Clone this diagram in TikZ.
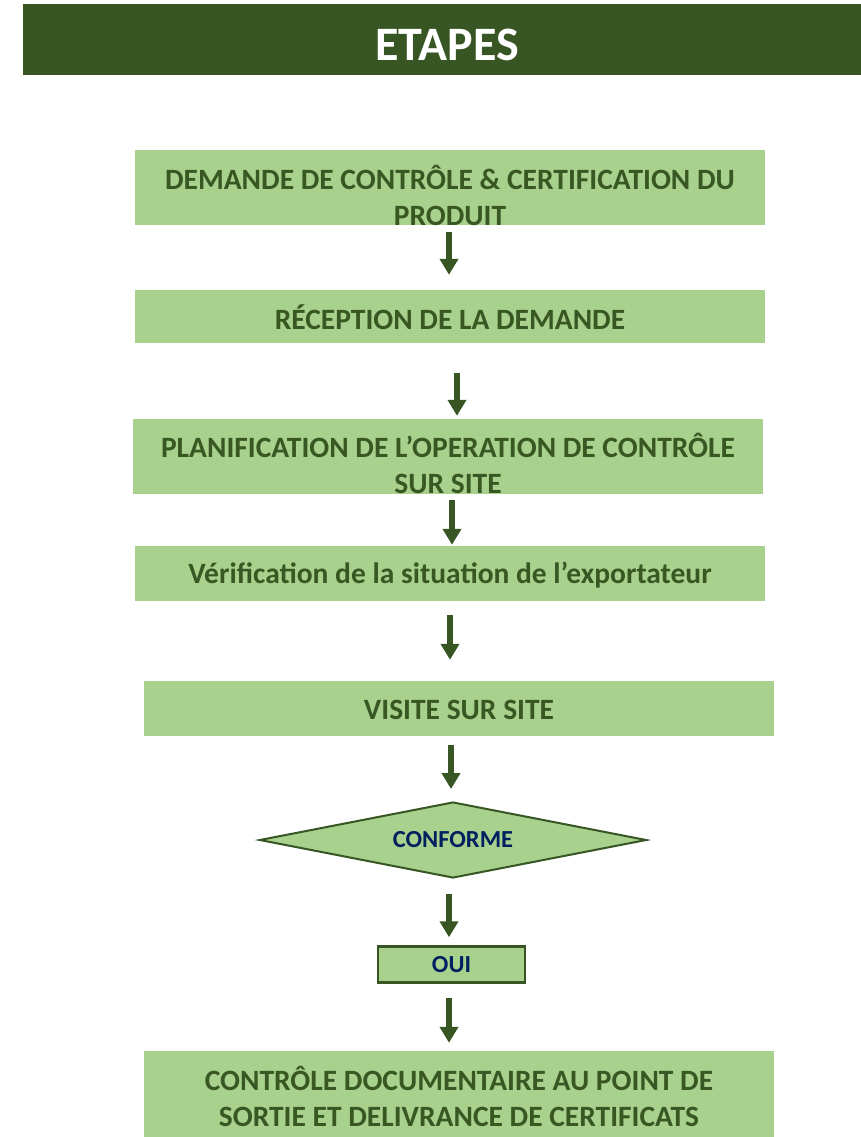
\documentclass[tikz,border=0pt]{standalone}
\usepackage{fontspec}
\setmainfont{Carlito}
\usetikzlibrary{arrows.meta,shapes.geometric}
\definecolor{dkgreen}{HTML}{375623}
\definecolor{txtgreen}{HTML}{385723}
\definecolor{ltgreen}{HTML}{A9D18E}
\definecolor{navy}{HTML}{002060}
\tikzset{
  stepbox/.style={fill=ltgreen, draw=none, minimum width=630pt, inner sep=0pt},
  steptext/.style={text=txtgreen, font=\bfseries\fontsize{29.5}{36}\selectfont, align=center, inner sep=0pt},
  flowarrow/.style={draw=dkgreen, line width=6.5pt, -{Triangle[width=18pt,length=16pt]}},
  decision/.style={diamond, shape aspect=5, fill=ltgreen, draw=dkgreen, line width=2pt, minimum width=387pt, minimum height=76pt, inner sep=0pt, text=navy, font=\bfseries\fontsize{24.5}{28}\selectfont},
  answer/.style={rectangle, fill=ltgreen, draw=dkgreen, line width=2.5pt, minimum width=147pt, minimum height=36pt, inner sep=0pt, text=navy, font=\bfseries\fontsize{24.5}{28}\selectfont}
}
\begin{document}
\begin{tikzpicture}[x=1pt,y=-1pt]
\useasboundingbox (0,0) rectangle (861,1137);
% banner
\node[fill=dkgreen, minimum width=848pt, minimum height=71pt, inner sep=0pt] (banner) at (447,39.5) {};
\node[text=white, font=\bfseries\fontsize{48}{56}\selectfont, inner sep=0pt] (title) at (447,45) {ETAPES};
% boxes
\node[stepbox, minimum height=75pt] (b1) at (450,187.5) {};
\node[steptext] (t1) at (450,195) {DEMANDE DE CONTRÔLE \& CERTIFICATION DU\\PRODUIT};
\node[stepbox, minimum height=53pt] (b2) at (450,316.5) {};
\node[steptext] (t2) at (450,317) {RÉCEPTION DE LA DEMANDE};
\node[stepbox, minimum height=75pt] (b3) at (448,456.5) {};
\node[steptext] (t3) at (448,463) {PLANIFICATION DE L’OPERATION DE CONTRÔLE\\SUR SITE};
\node[stepbox, minimum height=55pt] (b4) at (450,573.5) {};
\node[steptext] (t4) at (450,575) {Vérification de la situation de l’exportateur};
\node[stepbox, minimum height=55pt] (b5) at (459,708.5) {};
\node[steptext] (t5) at (459,709.5) {VISITE SUR SITE};
\node[decision] (d) at (453,840) {CONFORME};
\node[answer] (oui) at (451.5,964.5) {OUI};
\node[stepbox, minimum height=86pt] (b7) at (459,1094) {};
\node[steptext] (t7) at (459,1096.5) {CONTRÔLE DOCUMENTAIRE AU POINT DE\\SORTIE ET DELIVRANCE DE CERTIFICATS};
% arrows
\draw[flowarrow] ([xshift=-1pt,yshift=-7pt]b1.south) -- ([xshift=-1pt,yshift=15pt]b2.north);
\draw[flowarrow] ([xshift=7pt,yshift=-30pt]b2.south) -- ([xshift=9pt,yshift=3pt]b3.north);
\draw[flowarrow] ([xshift=4pt,yshift=-6pt]b3.south) -- ([xshift=2pt,yshift=1pt]b4.north);
\draw[flowarrow] ([yshift=-14pt]b4.south) -- ([xshift=-9pt,yshift=21pt]b5.north);
\draw[flowarrow] ([xshift=-8pt,yshift=-9pt]b5.south) -- ([xshift=-2pt,yshift=12pt]d.north);
\draw[flowarrow] ([xshift=-4pt,yshift=-15pt]d.south) -- ([xshift=-2.5pt,yshift=8pt]oui.north);
\draw[flowarrow] ([xshift=-2.5pt,yshift=-14pt]oui.south) -- ([xshift=-10pt,yshift=8pt]b7.north);
\end{tikzpicture}
\end{document}
